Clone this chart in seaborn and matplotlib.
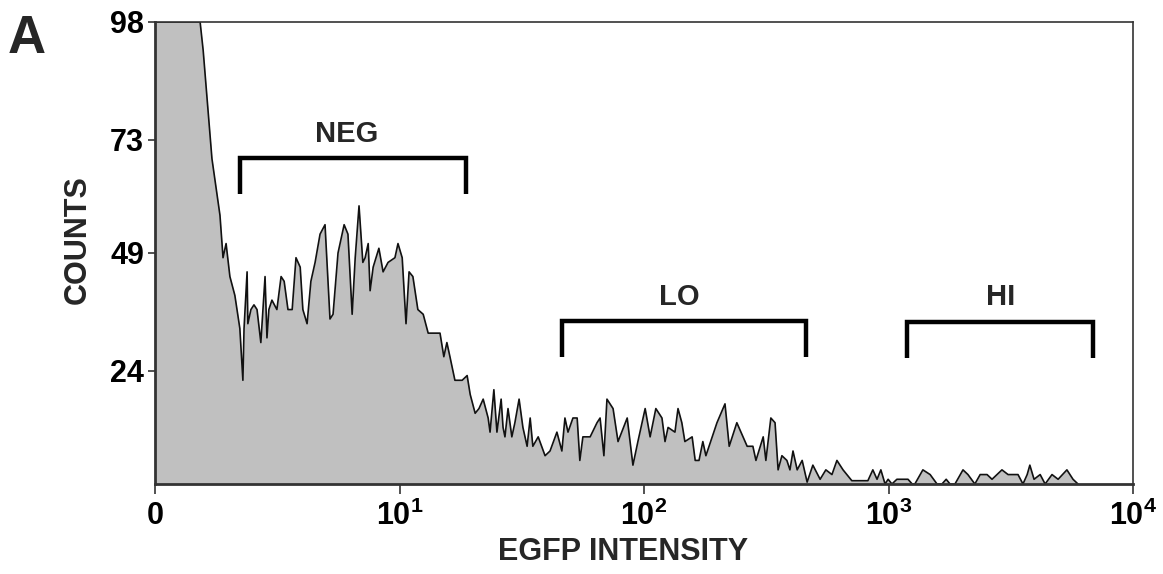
import numpy as np
import pandas as pd
import matplotlib
matplotlib.use("Agg")
import matplotlib.pyplot as plt
import seaborn as sns

# ---- data ----
# histogram channels (256 channels over 4 decades -> 64 channels / decade)
channels = [0, 11.8, 12.6, 14.9, 17.0, 17.8, 18.6, 19.6, 20.9, 22.2, 23.0, 23.3, 24.1, 24.3,
            25.1, 25.9, 26.7, 27.7, 28.8, 29.3, 29.8, 30.6, 31.9, 33.0, 33.8, 34.8, 35.9,
            36.9, 38.0, 38.7, 39.8, 40.8, 41.9, 43.2, 44.5, 45.8, 46.6, 47.9, 49.5, 50.5,
            51.6, 52.4, 53.4, 54.4, 55.0, 55.8, 56.3, 57.1, 58.6, 59.7, 61.0, 62.8, 63.6,
            64.7, 65.7, 66.5, 67.5, 68.8, 70.2, 71.5, 72.5, 74.6, 75.6, 76.4, 77.2, 78.5,
            80.4, 81.7, 82.5, 83.8, 84.8, 85.9, 87.2, 87.7, 88.7, 89.5, 90.6, 91.1, 91.6,
            92.4, 93.4, 94.2, 95.3, 96.3, 97.4, 98.2, 98.9, 100.3, 102.1, 103.4, 105.2,
            106.5, 107.3, 108.1, 109.4, 110.5, 111.2, 112.0, 113.9, 115.7, 116.5, 117.5,
            118.3, 119.9, 121.2, 123.6, 125.1, 126.4, 128.3, 129.6, 131.1, 132.7, 133.5,
            134.3, 136.1, 136.9, 137.9, 138.7, 140.6, 141.4, 142.4, 143.4, 144.2, 147.1,
            149.2, 150.3, 152.3, 155.0, 156.5, 157.3, 159.2, 159.9, 161.2, 162.3, 163.1,
            164.1, 165.4, 166.2, 167.0, 168.1, 169.4, 170.7, 172.2, 174.1, 175.6, 177.2,
            178.5, 180.1, 182.4, 186.6, 187.9, 189.0, 190.0, 191.1, 191.9, 192.9, 194.2,
            197.1, 198.2, 198.9, 201.0, 202.9, 204.7, 206.0, 207.1, 208.1, 209.4, 211.5,
            212.8, 214.6, 216.0, 217.8, 219.1, 221.7, 223.3, 224.6, 225.9, 227.2, 228.3,
            229.0, 230.1, 231.7, 233.0, 234.8, 236.4, 238.7, 240.3, 241.6]
counts = [98, 98, 92, 69, 57, 48, 51, 44, 40, 33, 22, 33, 45, 34,
          37, 38, 37, 30, 44, 31, 37, 39, 37, 44, 43, 37, 37,
          48, 46, 37, 34, 43, 47, 53, 55, 35, 36, 49, 55, 53,
          36, 48, 59, 47, 48, 51, 41, 46, 50, 45, 47, 48, 51,
          48, 34, 45, 44, 37, 36, 32, 32, 32, 27, 30, 27, 22,
          22, 23, 19, 15, 16, 18, 14, 11, 20, 11, 18, 12, 10,
          16, 10, 13, 18, 12, 8, 14, 8, 10, 6, 7, 11,
          7, 14, 11, 14, 14, 5, 10, 10, 13, 14, 6,
          18, 16, 9, 14, 4, 9, 16, 10, 16, 14, 9,
          12, 11, 16, 13, 9, 10, 5, 5, 9, 6, 13,
          17, 8, 13, 8, 8, 5, 10, 5, 14, 13, 3,
          6, 5, 3, 7, 3, 5, 0.4, 4, 1, 3, 2,
          5, 3, 0.7, 0.7, 3, 1, 3, 0, 1, 0, 1,
          1, 0, 0, 3, 2, 0, 0, 1, 0, 0, 3,
          2, 0, 2, 2, 1, 3, 2, 2, 2, 0, 2,
          4, 1, 2, 0, 2, 1, 3, 1, 0]

# gates: name, low / high intensity, bracket top / leg bottom (counts), label position
gate_names = ["NEG", "LO", "HI"]
gate_low = [2.23, 46.2, 1191]
gate_high = [18.7, 460, 6860]
gate_top = [69.1, 34.6, 34.4]
gate_bottom = [61.5, 26.9, 26.7]
gate_label_x = [6.1, 140, 2884]
gate_label_y = [74.2, 39.7, 39.7]

x_ticks = [1, 10, 100, 1000, 10000]
x_ticklabels = ["0", r"$\mathbf{10^{1}}$", r"$\mathbf{10^{2}}$", r"$\mathbf{10^{3}}$", r"$\mathbf{10^{4}}$"]
y_ticks = [24, 49, 73, 98]

# ---- style ----
sns.set_style("white")
plt.rcParams["font.family"] = ["Liberation Sans", "DejaVu Sans"]
plt.rcParams["font.weight"] = "bold"
plt.rcParams["mathtext.fontset"] = "custom"
plt.rcParams["mathtext.rm"] = "Liberation Sans:bold"
plt.rcParams["mathtext.bf"] = "Liberation Sans:bold"
plt.rcParams["mathtext.it"] = "Liberation Sans:bold"

df = pd.DataFrame({"intensity": 10 ** (np.array(channels) / 64.0), "counts": counts})

fig = plt.figure(figsize=(11.63, 5.74), dpi=100)
ax = fig.add_axes([0.1333, 0.1568, 0.8409, 0.8049])

ax.fill_between(df["intensity"], 0, df["counts"], color="#c0c0c0", linewidth=0, zorder=1)
sns.lineplot(data=df, x="intensity", y="counts", ax=ax, color="#111111", linewidth=1.2,
             estimator=None, sort=False, zorder=2)

ax.set_xscale("log")
ax.set_xlim(1, 10000)
ax.set_ylim(0, 98)
ax.set_xticks(x_ticks)
ax.set_xticklabels(x_ticklabels)
ax.xaxis.set_minor_locator(matplotlib.ticker.NullLocator())
ax.set_yticks(y_ticks)
ax.set_yticklabels([str(v) for v in y_ticks])

ax.tick_params(axis="x", which="major", direction="out", length=7, width=1.2,
               labelsize=22, pad=5, bottom=True, colors="#333333", labelcolor="black")
ax.tick_params(axis="y", which="major", direction="out", length=5, width=1.2,
               labelsize=22, pad=3, left=True, colors="#333333", labelcolor="black")
for lab in ax.get_xticklabels() + ax.get_yticklabels():
    lab.set_fontweight("bold")

for side in ["top", "right"]:
    ax.spines[side].set_color("#333333")
    ax.spines[side].set_linewidth(1.2)
for side in ["left", "bottom"]:
    ax.spines[side].set_color("#333333")
    ax.spines[side].set_linewidth(2.0)

ax.set_xlabel("EGFP INTENSITY", fontsize=22, fontweight="bold")
ax.set_ylabel("COUNTS", fontsize=22, fontweight="bold")
ax.xaxis.set_label_coords(0.479, -0.115)
ax.yaxis.set_label_coords(-0.064, 0.53)

for name, lo, hi, top, bot, lx, ly in zip(gate_names, gate_low, gate_high, gate_top,
                                          gate_bottom, gate_label_x, gate_label_y):
    ax.plot([lo, lo, hi, hi], [bot, top, top, bot], color="black", linewidth=3.2,
            solid_joinstyle="miter", solid_capstyle="butt", zorder=3)
    ax.text(lx, ly, name, ha="center", va="center", fontsize=21, fontweight="bold", zorder=3)

fig.text(0.007, 0.975, "A", fontsize=38, fontweight="bold", ha="left", va="top")

fig.savefig("out.png", dpi=100)
